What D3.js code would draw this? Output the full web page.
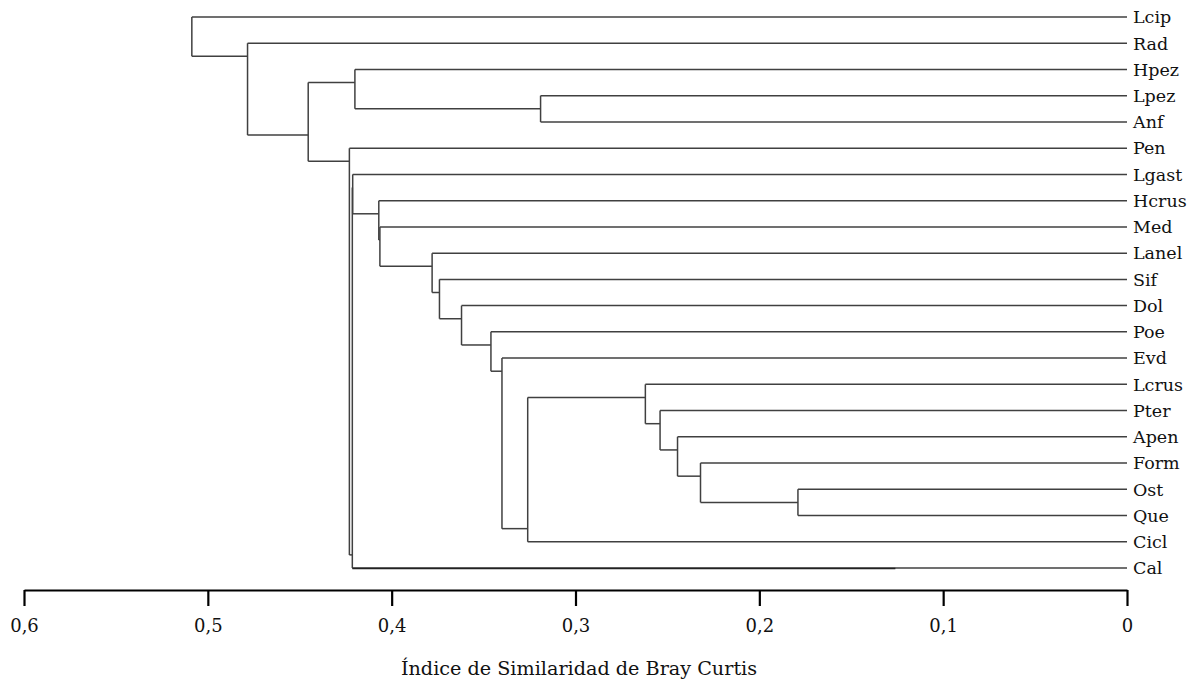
<!DOCTYPE html>
<html>
<head>
<meta charset="utf-8">
<script src="https://cdn.jsdelivr.net/npm/d3@7"></script>
<style>
  body { margin: 0; background: #fff; }
</style>
</head>
<body>
<svg id="dendro"></svg>
<script>
// leaves, top to bottom
const leaves = ["Lcip", "Rad", "Hpez", "Lpez", "Anf", "Pen", "Lgast", "Hcrus", "Med", "Lanel",
  "Sif", "Dol", "Poe", "Evd", "Lcrus", "Pter", "Apen", "Form", "Ost", "Que", "Cicl", "Cal"];

// merges: [node, height (Bray Curtis), first child, second child]
const merges = [
  ["n1", 0.179, "Ost", "Que"],
  ["n2", 0.232, "Form", "n1"],
  ["n3", 0.2445, "Apen", "n2"],
  ["n4", 0.254, "Pter", "n3"],
  ["n5", 0.262, "Lcrus", "n4"],
  ["n6", 0.326, "n5", "Cicl"],
  ["n7", 0.340, "Evd", "n6"],
  ["n8", 0.346, "Poe", "n7"],
  ["n9", 0.362, "Dol", "n8"],
  ["n10", 0.374, "Sif", "n9"],
  ["n11", 0.378, "Lanel", "n10"],
  ["n12", 0.4064, "Med", "n11"],
  ["n13", 0.407, "Hcrus", "n12"],
  ["n14", 0.4212, "Lgast", "n13"],
  ["n15", 0.4214, "n14", "Cal"],
  ["n16", 0.423, "Pen", "n15"],
  ["n17", 0.319, "Lpez", "Anf"],
  ["n18", 0.420, "Hpez", "n17"],
  ["n19", 0.4454, "n18", "n16"],
  ["n20", 0.4784, "Rad", "n19"],
  ["n21", 0.5087, "Lcip", "n20"],
];

// the Cal branch is drawn doubled (heavier) up to this value
const calDouble = [0.4214, 0.126];

const xTicks = [0.6, 0.5, 0.4, 0.3, 0.2, 0.1, 0];
const xTitle = "Índice de Similaridad de Bray Curtis";

// only DejaVu Serif resolves to a serif face here
const serif = "DejaVu Serif";

const size = { width: 1189, height: 683 };
const margin = { left: 24, right: 62, top: 17, axisY: 590 };

const svg = d3.select("#dendro").attr("width", size.width).attr("height", size.height);

const x = d3.scaleLinear().domain([0.6, 0]).range([margin.left, size.width - margin.right]);
const y = d3.scaleLinear().domain([0, leaves.length - 1]).range([margin.top, 568]);

// build nested tree from the merge table
const byId = {};
leaves.forEach((name, i) => (byId[name] = { name, height: 0, row: i }));
merges.forEach(([id, h, a, b]) => (byId[id] = { name: id, height: h, children: [byId[a], byId[b]] }));
const root = d3.hierarchy(byId[merges[merges.length - 1][0]]);

// row where a node is joined to its parent: gap after the first child's last leaf
const lastRow = (n) => (n.children ? lastRow(n.children[n.children.length - 1]) : n.data.row);
const attach = (n) => (n.children ? lastRow(n.children[0]) + 0.5 : n.data.row);

const lineColor = "#404040";
const g = svg.append("g").attr("fill", "none").attr("stroke", lineColor).attr("stroke-width", 1.5);

root.each((n) => {
  if (!n.children) return;
  const ys = n.children.map(attach);
  g.append("line")
    .attr("x1", x(n.data.height)).attr("x2", x(n.data.height))
    .attr("y1", y(d3.min(ys))).attr("y2", y(d3.max(ys)));
  n.children.forEach((c) => {
    g.append("line")
      .attr("x1", x(n.data.height)).attr("x2", x(c.data.height))
      .attr("y1", y(attach(c))).attr("y2", y(attach(c)));
  });
});

g.append("line")
  .attr("x1", x(calDouble[0])).attr("x2", x(calDouble[1]))
  .attr("y1", y(leaves.indexOf("Cal")) + 0.6).attr("y2", y(leaves.indexOf("Cal")) + 0.6)
  .attr("stroke", "#222");

svg.append("g")
  .selectAll("text")
  .data(leaves)
  .join("text")
  .attr("x", x(0) + 6)
  .attr("y", (d, i) => y(i))
  .attr("dy", "0.36em")
  .attr("font-family", serif)
  .attr("font-size", 17.5)
  .attr("fill", "#111")
  .text((d) => d);

// axis
const axis = svg.append("g")
  .attr("transform", `translate(0, ${margin.axisY})`)
  .call(
    d3.axisBottom(x)
      .tickValues(xTicks)
      .tickSize(16)
      .tickSizeOuter(0)
      .tickPadding(13)
      .tickFormat((d) => (d === 0 ? "0" : d.toFixed(1).replace(".", ",")))
  );
axis.attr("font-family", serif).attr("font-size", 18);
axis.select(".domain").attr("stroke", "#000").attr("stroke-width", 2);
axis.selectAll(".tick line").attr("stroke", "#000").attr("stroke-width", 2.2);
axis.selectAll(".tick text").attr("fill", "#111");

svg.append("text")
  .attr("x", 579)
  .attr("y", 675)
  .attr("text-anchor", "middle")
  .attr("font-family", serif)
  .attr("font-size", 19.2)
  .attr("fill", "#111")
  .text(xTitle);
</script>
</body>
</html>
